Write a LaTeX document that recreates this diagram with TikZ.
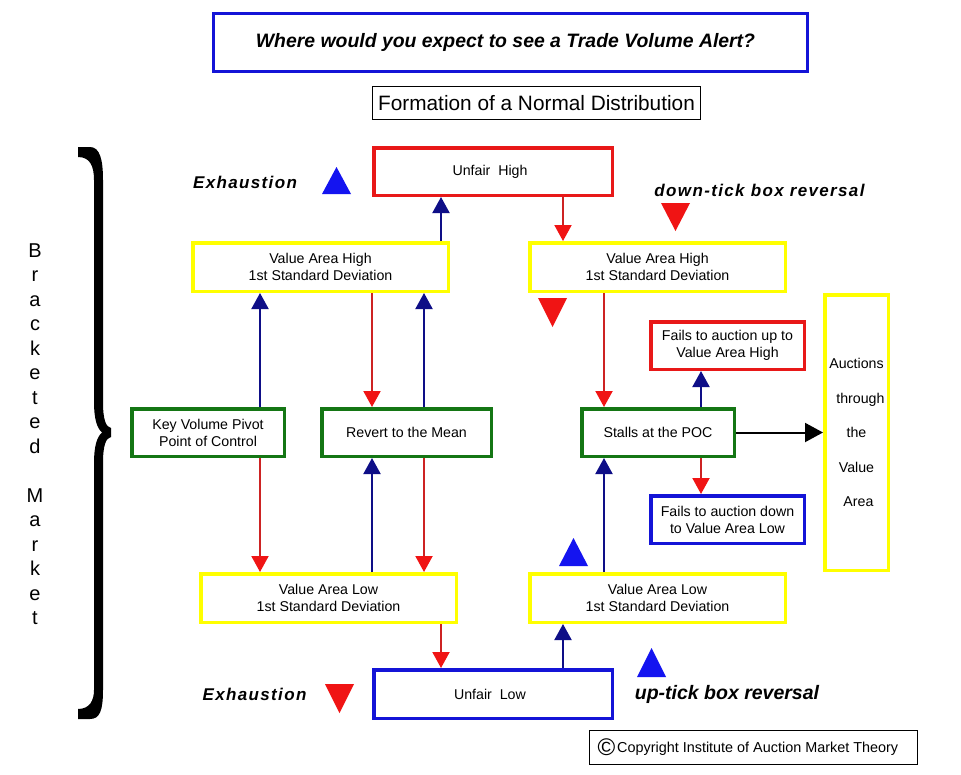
\documentclass[tikz,border=0pt]{standalone}
\usepackage{fontspec}
\setmainfont{Liberation Sans}
\usetikzlibrary{arrows.meta}
\definecolor{boxred}{RGB}{232,24,24}
\definecolor{boxyellow}{RGB}{255,255,0}
\definecolor{boxgreen}{RGB}{20,118,20}
\definecolor{boxblue}{RGB}{20,20,215}
\definecolor{navy}{RGB}{14,14,135}
\definecolor{arrred}{RGB}{205,35,35}
\definecolor{headred}{RGB}{240,20,20}
\definecolor{triblue}{RGB}{20,20,240}
\definecolor{trired}{RGB}{240,20,20}
\tikzset{
  box/.style={draw, line width=3.5pt, inner sep=0pt, align=center, fill=white,
    font=\fontsize{14.2}{17}\selectfont},
  upar/.style={draw=navy, line width=2pt, -{Triangle[width=17pt,length=16pt]}},
  dnar/.style={draw=arrred, line width=2pt, -{Triangle[width=17pt,length=16pt,color=headred]}},
  bkar/.style={draw=black, line width=2pt, -{Triangle[width=19pt,length=18pt]}},
  tag/.style={inner sep=0pt, font=\fontsize{17}{19}\selectfont\bfseries\itshape\addfontfeature{LetterSpace=8}},
  vlet/.style={inner sep=0pt, anchor=base, font=\fontsize{20}{22}\selectfont}
}
\begin{document}
\begin{tikzpicture}[x=1pt,y=-1pt]
\useasboundingbox[fill=white] (0,0) rectangle (961,774);

% title boxes
\node[draw=boxblue, line width=3pt, inner sep=0pt, minimum width=594pt, minimum height=58pt,
  font=\fontsize{19.4}{22}\selectfont\bfseries\itshape] (title) at (510.5,42.5)
  {\hspace*{-10pt}Where would you expect to see a Trade Volume Alert?};
\node[draw=black, line width=1pt, inner sep=0pt, minimum width=328pt, minimum height=33pt,
  font=\fontsize{20.8}{23}\selectfont] (form) at (536.5,103)
  {Formation of a Normal Distribution};

% main boxes
\node[box, draw=boxred, minimum width=238.5pt, minimum height=47.5pt] (uh) at (493,171.5) {\hspace*{-6pt}Unfair\ \ High};
\node[box, draw=boxyellow, minimum width=255.5pt, minimum height=48.5pt] (vahl) at (320.5,267) {Value Area High\\1st Standard Deviation};
\node[box, draw=boxyellow, minimum width=255.5pt, minimum height=48.5pt] (vahr) at (657.5,267) {Value Area High\\1st Standard Deviation};
\node[box, draw=boxgreen, minimum width=152.5pt, minimum height=47.5pt] (kvp) at (208,432.5) {Key Volume Pivot\\Point of Control};
\node[box, draw=boxgreen, minimum width=169.5pt, minimum height=47.5pt] (rtm) at (406.5,432.5) {Revert to the Mean};
\node[box, draw=boxgreen, minimum width=152.5pt, minimum height=47.5pt] (poc) at (658,432.5) {Stalls at the POC};
\node[box, draw=boxred, minimum width=153.5pt, minimum height=47.5pt] (fup) at (727.5,345.5) {Fails to auction up to\\Value Area High};
\node[box, draw=boxblue, minimum width=153.5pt, minimum height=47.5pt] (fdn) at (727.5,519.5) {Fails to auction down\\to Value Area Low};
\node[box, draw=boxyellow, minimum width=63.5pt, minimum height=275.5pt,
  font=\fontsize{14.2}{34.5}\selectfont] (atv) at (856.5,432.5)
  {Auctions\\\ \ through\\the\\Value\\\ Area};
\node[box, draw=boxyellow, minimum width=255.5pt, minimum height=48.5pt] (vall) at (328.5,598) {Value Area Low\\1st Standard Deviation};
\node[box, draw=boxyellow, minimum width=255.5pt, minimum height=48.5pt] (valr) at (657.5,598) {Value Area Low\\1st Standard Deviation};
\node[box, draw=boxblue, minimum width=238.5pt, minimum height=48.5pt] (ul) at (493,694) {\hspace*{-6pt}Unfair\ \ Low};
\node[draw=black, line width=1pt, inner sep=0pt, minimum width=328pt, minimum height=34pt,
  font=\fontsize{14.4}{16}\selectfont] (copy) at (753.5,747.5)
  {\makebox[312pt][l]{\raisebox{-3.2pt}{\fontsize{24}{24}\selectfont\textcopyright}\hspace{2pt}Copyright Institute of Auction Market Theory}};

% connectors
\draw[upar] (vahl.north -| 441,0) -- (uh.south -| 441,0);
\draw[dnar] (uh.south -| 563,0) -- (vahr.north -| 563,0);
\draw[upar] (kvp.north -| 260,0) -- (vahl.south -| 260,0);
\draw[dnar] (vahl.south -| 372,0) -- (rtm.north -| 372,0);
\draw[upar] (rtm.north -| 424,0) -- (vahl.south -| 424,0);
\draw[dnar] (kvp.south -| 260,0) -- (vall.north -| 260,0);
\draw[upar] (vall.north -| 372,0) -- (rtm.south -| 372,0);
\draw[dnar] (rtm.south -| 424,0) -- (vall.north -| 424,0);
\draw[dnar] (vall.south -| 441,0) -- (ul.north -| 441,0);
\draw[upar] (ul.north -| 563,0) -- (valr.south -| 563,0);
\draw[dnar] (vahr.south -| 604,0) -- (poc.north -| 604,0);
\draw[upar] (valr.north -| 604,0) -- (poc.south -| 604,0);
\draw[upar] (poc.north -| 701,0) -- (fup.south -| 701,0);
\draw[dnar] (poc.south -| 701,0) -- (fdn.north -| 701,0);
\draw[bkar] (poc.east) -- (atv.west |- poc.east);

% labels
\node[tag] (exh1) at (245,182) {Exhaustion};
\node[tag] (dtick) at (759.5,190) {down-tick box reversal};
\node[tag] (exh2) at (254.5,694) {Exhaustion};
\node[tag, font=\fontsize{19.5}{21}\selectfont\bfseries\itshape] (utick) at (727,694) {up-tick box reversal};

% triangles
\fill[triblue] (322,194) -- (351,194) -- (336.5,167) -- cycle;
\fill[triblue] (559,566) -- (588,566) -- (573.5,538) -- cycle;
\fill[triblue] (637,677) -- (666,677) -- (651.5,648) -- cycle;
\fill[trired] (661,203) -- (690,203) -- (675.5,231) -- cycle;
\fill[trired] (538,298) -- (567,298) -- (552.5,327) -- cycle;
\fill[trired] (325,684) -- (354,684) -- (339.5,713) -- cycle;

% bracket
\fill[black] (78,147) -- (90,147) .. controls (100,147) and (103,160) .. (103,180)
  -- (103,402) .. controls (103,420) and (106,427) .. (111,428) -- (111,437)
  .. controls (106,438) and (103,445) .. (103,463) -- (103,690)
  .. controls (103,710) and (100,719) .. (90,719) -- (78,719) -- (78,709)
  .. controls (90,709) and (94,700) .. (94,690) -- (94,463)
  .. controls (94,446) and (97,437) .. (102,432.5)
  .. controls (97,428) and (94,419) .. (94,402) -- (94,180)
  .. controls (94,166) and (90,157) .. (78,157) -- cycle;

% vertical text
\foreach \ch/\k in {B/0,r/1,a/2,c/3,k/4,e/5,t/6,e/7,d/8,M/10,a/11,r/12,k/13,e/14,t/15}
  \node[vlet] (bm\k) at (35,257+24.5*\k) {\ch};
\end{tikzpicture}
\end{document}
